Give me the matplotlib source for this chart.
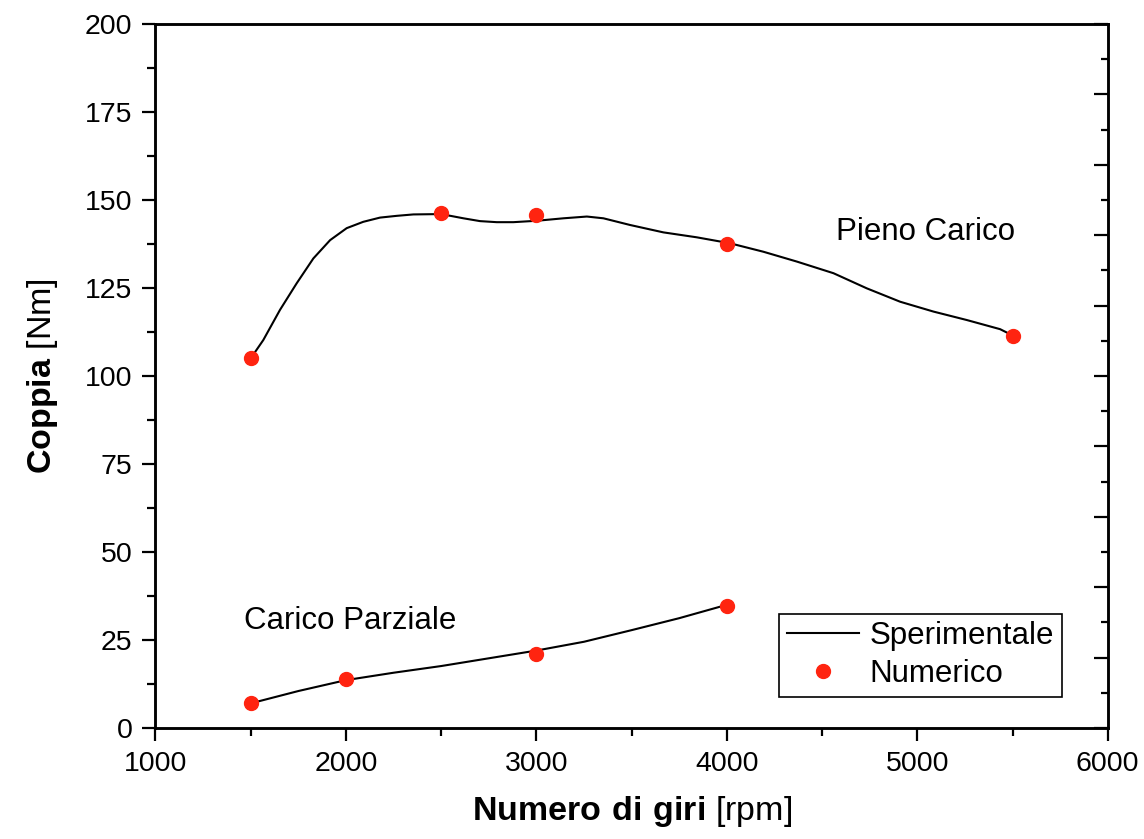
import matplotlib
matplotlib.use("Agg")
import matplotlib.pyplot as plt
from matplotlib.ticker import MultipleLocator

plt.rcParams['font.family'] = ['Liberation Sans', 'DejaVu Sans']
plt.rcParams['mathtext.fontset'] = 'custom'
plt.rcParams['mathtext.rm'] = 'Liberation Sans'
plt.rcParams['mathtext.bf'] = 'Liberation Sans:bold'

rpm_full_exp = [1500, 1566, 1654, 1741, 1829, 1917, 2004, 2091, 2179, 2267, 2354, 2500,
                2617, 2704, 2792, 2879, 3002, 3142, 3265, 3352, 3492, 3667, 3842, 4017,
                4192, 4368, 4560, 4735, 4910, 5085, 5260, 5435, 5505]
torque_full_exp = [105.0, 110.2, 118.8, 126.3, 133.4, 138.6, 142.0, 143.8, 145.0, 145.5, 145.9, 146.0,
                   144.8, 144.0, 143.7, 143.7, 144.1, 144.8, 145.3, 144.8, 142.9, 140.8, 139.4, 137.7,
                   135.3, 132.5, 129.2, 124.9, 121.1, 118.3, 115.9, 113.3, 111.4]

rpm_part_exp = [1500, 1750, 2000, 2250, 2500, 2750, 3000, 3250, 3500, 3750, 4000]
torque_part_exp = [7.0, 10.5, 13.6, 15.7, 17.6, 19.8, 22.0, 24.5, 27.8, 31.2, 35.0]

# numerical points
rpm_full_num = [1500, 2500, 3000, 4000, 5500]
torque_full_num = [105.0, 146.2, 145.6, 137.5, 111.3]
rpm_part_num = [1500, 2000, 3000, 4000]
torque_part_num = [7.0, 14.0, 20.9, 34.8]

fig = plt.figure(figsize=(11.44, 8.39), dpi=100)
ax = fig.add_axes([0.1359, 0.1323, 0.9683 - 0.1359, 0.9714 - 0.1323])

red = '#ff2410'
ax.plot(rpm_full_exp, torque_full_exp, c='black', lw=1.5, label='Sperimentale',
        solid_joinstyle='round')
ax.plot(rpm_part_exp, torque_part_exp, c='black', lw=1.5, solid_joinstyle='round')
ax.plot(rpm_full_num, torque_full_num, 'o', c=red, ms=10, label='Numerico')
ax.plot(rpm_part_num, torque_part_num, 'o', c=red, ms=10)

ax.set_xlim(1000, 6000)
ax.set_ylim(0, 200)
ax.xaxis.set_major_locator(MultipleLocator(1000))
ax.xaxis.set_minor_locator(MultipleLocator(500))
ax.yaxis.set_major_locator(MultipleLocator(25))
ax.yaxis.set_minor_locator(MultipleLocator(12.5))
ax.tick_params(which='both', direction='out', width=1.6, labelsize=20.5, top=False, right=False)
ax.tick_params(which='major', length=9.5, pad=7)
ax.tick_params(which='minor', length=6)
for s in ax.spines.values():
    s.set_linewidth(1.8)

# right side ticks (inward, no labels)
ax2 = ax.twinx()
ax2.set_ylim(0, 200)
ax2.yaxis.set_major_locator(MultipleLocator(20))
ax2.yaxis.set_minor_locator(MultipleLocator(10))
ax2.tick_params(which='both', direction='in', width=1.6, labelright=False)
ax2.tick_params(which='major', length=10)
ax2.tick_params(which='minor', length=5)
for s in ax2.spines.values():
    s.set_linewidth(1.8)

ax.set_xlabel(r'$\bf{Numero\ di\ giri}$ [rpm]', fontsize=24.5, labelpad=12)
ax.set_ylabel(r'$\bf{Coppia}$ [Nm]', fontsize=24.5, labelpad=18)

ax.text(4572, 141, 'Pieno Carico', fontsize=22.5, va='center')
ax.text(1465, 30.5, 'Carico Parziale', fontsize=22.5, va='center')

leg = ax.legend(loc='lower right', bbox_to_anchor=(0.952, 0.044), fontsize=22.5,
                frameon=True, fancybox=False, edgecolor='black', handlelength=2.3,
                borderpad=0.25, labelspacing=0.25, handletextpad=0.35, borderaxespad=0)
leg.get_frame().set_linewidth(1.2)
leg.get_frame().set_alpha(None)

fig.savefig('out.png', dpi=100)
